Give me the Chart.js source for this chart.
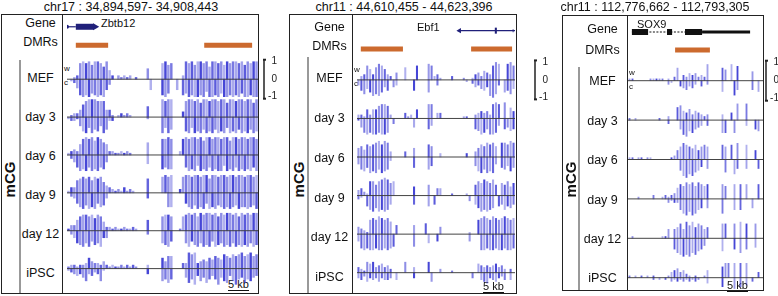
<!DOCTYPE html>
<html>
<head>
<meta charset="utf-8">
<script src="https://cdn.jsdelivr.net/npm/chart.js@4.4.0/dist/chart.umd.min.js"></script>
<style>
  body { margin: 0; width: 778px; height: 296px; position: relative; overflow: hidden; background: #fff;
         font-family: "Liberation Sans", Arial, Helvetica, sans-serif; color: #111; }
  .abs { position: absolute; white-space: nowrap; }
</style>
</head>
<body>
<script>
// mCG level per bin, in tenths (10 = fully methylated). one row per sample, w = Watson (up), c = Crick (down)
const samples = ["MEF", "day 3", "day 6", "day 9", "day 12", "iPSC"];
const scaleTicks = [1, 0, -1];

const zbtbW = [
    [0,0,1,2,9, 10,9,10,8,10, 10,9,7,10,5, 2,0,2,1,2, 1,2,0,1,0, 0,0,6,0,0, 0,0,9,10,8, 9,0,0,0,2, 10,9,10,8,10, 10,9,10,7,10, 10,9,10,8,10, 9,10,10,9,10, 8,10,9,10,10],
    [0,1,2,2,4, 7,9,10,10,10, 9,9,9,4,4, 1,0,1,2,1, 2,1,0,0,0, 0,0,6,0,0, 0,0,10,9,10, 10,0,0,0,3, 9,10,10,9,10, 8,10,10,9,10, 10,9,10,10,8, 10,10,9,10,10, 9,10,10,8,10],
    [1,2,3,2,6, 9,10,9,10,8, 10,9,7,6,2, 2,1,1,2,1, 2,1,0,0,0, 0,0,7,0,0, 0,0,9,9,10, 9,0,0,2,9, 10,9,10,10,9, 10,8,10,10,9, 10,10,9,10,10, 8,10,10,9,10, 10,9,10,10,9],
    [1,3,3,7,8, 9,8,9,7,9, 8,9,6,4,3, 2,1,2,1,3, 1,2,1,0,0, 0,0,8,0,0, 0,0,9,10,9, 10,0,0,2,9, 10,10,9,10,10, 9,10,10,8,10, 10,9,10,10,9, 10,10,9,10,10, 9,10,10,9,10],
    [1,3,3,6,8, 9,9,8,9,7, 9,8,5,2,2, 1,2,1,1,2, 1,1,2,1,0, 0,0,6,0,0, 0,0,8,9,9, 8,0,0,1,8, 9,10,9,10,8, 10,9,10,10,9, 10,8,10,9,10, 10,9,10,8,10, 9,10,9,10,10],
    [1,2,2,1,2, 2,3,6,4,3, 3,2,4,2,1, 2,1,1,2,1, 2,1,2,1,0, 0,0,2,0,0, 0,0,6,4,7, 7,0,0,0,3, 3,9,8,9,3, 4,5,4,6,5, 7,6,5,8,7, 6,8,7,8,9, 7,8,9,7,8]
];
const zbtbC = [
    [0,1,2,5,9, 10,9,10,8,9, 10,9,10,6,3, 0,0,0,0,0, 0,0,0,0,0, 0,0,0,6,0, 0,0,9,10,8, 0,0,6,0,9, 8,10,9,10,10, 9,10,7,10,10, 9,10,8,10,10, 9,10,9,10,8, 10,10,9,10,10],
    [1,2,2,1,5, 8,9,6,9,7, 8,5,9,7,2, 2,0,0,0,0, 0,0,0,0,0, 0,0,1,0,0, 0,0,9,6,9, 7,0,0,0,0, 8,9,6,9,8, 9,7,9,8,9, 7,9,8,9,6, 9,8,9,7,9, 8,9,7,9,8],
    [0,2,4,7,9, 8,9,7,9,8, 9,7,8,4,0, 0,0,0,0,0, 0,0,0,0,0, 0,0,5,0,0, 0,0,8,7,8, 8,0,0,0,0, 7,9,8,9,6, 9,8,9,7,9, 8,9,9,6,9, 8,9,7,9,8, 9,8,9,7,9],
    [0,2,3,6,8, 9,7,9,8,9, 6,8,7,3,0, 0,0,0,0,0, 0,0,0,0,0, 0,0,3,0,0, 0,0,0,0,8, 8,0,0,0,0, 6,8,9,7,9, 8,9,6,9,8, 9,7,8,9,8, 9,8,7,9,8, 8,9,8,7,9],
    [0,2,4,7,8, 9,7,9,6,8, 7,9,4,4,0, 0,0,0,0,0, 0,0,0,0,0, 0,0,2,0,0, 0,0,7,8,9, 6,0,0,0,0, 7,9,6,8,9, 7,9,8,9,6, 9,8,7,9,8, 9,7,9,8,9, 8,9,7,9,8],
    [1,2,3,4,3, 5,7,3,4,2, 3,7,1,0,0, 0,0,0,0,0, 0,0,0,0,0, 0,0,3,0,0, 0,0,7,6,8, 6,0,0,0,0, 5,8,6,9,4, 7,5,8,6,4, 6,9,5,7,8, 4,7,9,6,5, 8,6,7,5,4]
];

const ebfW = [
    [0,2,3,8,6, 3,7,9,8,6, 3,2,0,4,0, 0,7,0,0,0, 8,0,0,0,9, 8,2,3,1,0, 0,0,2,0,0, 0,1,0,0,1, 3,4,2,5,4, 3,8,10,9,0, 0,9,10,8],
    [2,2,1,5,2, 5,5,7,8,8, 7,2,0,0,0, 0,3,1,2,0, 5,0,0,0,8, 8,0,3,3,0, 0,0,0,0,0, 0,1,1,0,0, 2,3,4,3,4, 2,8,9,8,0, 9,0,6,4],
    [5,6,4,7,6, 7,8,9,7,9, 8,3,0,0,0, 0,3,0,0,5, 0,0,0,0,7, 6,0,0,2,0, 0,0,0,0,0, 0,0,2,0,0, 3,5,7,6,8, 7,8,6,0,8, 8,7,9,8],
    [3,4,2,1,8, 8,6,8,9,10, 9,7,8,0,0, 0,0,0,0,5, 0,0,0,0,6, 0,0,4,4,0, 0,0,1,0,0, 0,0,1,0,0, 6,8,7,9,8, 7,9,6,0,7, 6,8,5,7],
    [4,3,2,1,8, 9,8,10,9,8, 9,7,0,5,0, 0,0,0,0,5, 0,0,0,6,0, 0,0,0,4,0, 0,0,0,0,0, 0,0,0,1,0, 0,8,9,10,9, 8,10,9,8,9, 10,9,8,9],
    [3,2,1,6,5, 6,3,4,5,3, 4,2,0,0,0, 0,6,0,0,3, 0,0,0,0,6, 0,0,0,2,0, 0,0,1,0,0, 0,0,0,0,0, 0,5,4,3,4, 3,4,5,3,4, 2,0,2,0]
];
const ebfC = [
    [3,6,8,5,7, 9,8,9,7,4, 6,0,4,3,0, 0,0,0,0,6, 0,0,0,0,7, 0,0,3,0,0, 0,0,0,0,0, 0,0,1,0,2, 4,3,5,6,4, 9,10,8,3,0, 7,6,8,5],
    [1,5,8,9,8, 9,9,8,9,9, 8,0,3,0,0, 0,0,0,0,5, 0,0,0,0,6, 4,0,0,0,0, 0,0,0,0,0, 0,0,0,0,0, 6,7,9,8,6, 9,9,8,4,0, 6,5,7,6],
    [4,7,8,6,9, 8,9,7,9,8, 7,2,0,0,0, 0,0,0,0,6, 0,0,0,0,7, 5,0,0,0,0, 0,0,0,0,0, 0,0,0,0,0, 5,8,9,7,9, 8,9,4,0,6, 7,5,8,6],
    [2,1,0,6,8, 9,7,9,8,9, 8,5,0,0,0, 0,0,0,0,5, 0,0,0,0,6, 0,5,0,0,0, 0,0,0,0,0, 0,0,0,3,0, 5,7,9,8,9, 8,7,0,6,5, 8,6,7,5],
    [4,8,9,8,9, 9,8,9,9,8, 9,8,7,0,0, 0,0,0,0,7, 0,0,0,0,5, 0,0,4,0,0, 0,0,0,0,0, 0,0,0,4,0, 0,0,9,9,8, 9,9,8,9,9, 8,9,9,8],
    [3,4,2,5,3, 4,3,5,3,4, 4,3,0,4,0, 0,0,0,0,3, 0,0,0,0,0, 5,0,0,0,0, 0,0,0,0,0, 0,0,0,0,3, 0,0,4,5,6, 3,4,5,3,2, 4,0,4,0]
];

const soxW = [
    [1,1,0,0,0, 0,0,1,1,1, 1,1,0,1,0, 2,7,0,3,2, 4,3,4,2,3, 2,9,0,0,0, 0,7,6,0,9, 0,8,0,0,0, 0,5,0,0,0],
    [1,0,1,0,0, 0,0,0,0,0, 1,0,0,2,0, 0,7,8,5,4, 6,3,5,4,3, 2,3,0,0,0, 0,3,0,0,4, 0,9,0,0,9, 0,0,0,0,0],
    [1,1,0,1,1, 0,1,1,0,0, 0,0,0,0,1, 2,5,7,9,8, 7,6,8,5,7, 8,7,0,0,0, 0,8,7,0,8, 0,9,0,0,8, 0,0,5,0,0],
    [0,0,0,1,0, 0,0,0,2,0, 0,1,2,1,2, 3,6,8,7,9, 8,9,7,9,8, 7,8,0,0,0, 0,8,7,0,0, 8,0,8,0,8, 0,0,0,8,0],
    [0,1,0,0,0, 0,0,0,0,0, 0,1,1,5,0, 5,6,8,5,9, 7,9,6,8,7, 5,6,0,0,0, 0,8,8,0,0, 8,0,9,0,8, 0,0,8,0,0],
    [1,0,1,0,1, 0,1,0,1,0, 0,0,0,1,3, 4,5,3,4,2, 1,0,1,0,0, 1,4,0,0,0, 0,6,8,8,0, 8,0,8,0,8, 0,0,0,3,0]
];
const soxC = [
    [0,0,0,0,0, 0,0,0,0,0, 0,0,0,2,1, 0,0,3,4,5, 3,4,2,0,3, 0,2,0,0,0, 0,6,0,0,0, 8,5,0,0,0, 0,5,0,6,0],
    [0,0,0,0,0, 0,0,0,0,0, 0,0,0,2,0, 0,0,5,8,9, 6,7,5,4,3, 0,3,0,0,0, 0,7,7,0,0, 7,0,0,0,3, 0,0,5,6,0],
    [0,0,0,0,0, 0,0,0,0,0, 0,0,0,0,0, 0,0,6,9,10, 8,9,7,6,4, 0,5,0,0,0, 0,0,7,0,0, 8,5,0,0,5, 0,0,0,5,0],
    [0,0,0,0,0, 0,0,0,0,0, 0,0,0,2,1, 2,2,6,8,9, 7,9,8,6,5, 0,5,0,0,0, 0,8,0,0,0, 6,0,6,0,0, 0,5,0,0,0],
    [0,0,0,0,0, 0,0,0,0,0, 0,0,0,0,0, 6,8,9,10,9, 10,8,9,7,6, 4,0,0,0,0, 0,7,0,0,0, 6,0,8,0,6, 0,0,5,0,0],
    [0,0,0,0,0, 0,0,0,1,0, 1,0,1,0,2, 1,2,1,2,1, 2,1,2,1,0, 0,3,0,0,0, 0,5,0,0,0, 6,0,5,0,4, 0,2,0,0,0]
];

// gene models and DMRs, in bin positions: [from, to, kind]
const zbtbGene = [[0, 3, "intron"], [3, 9.2, "exon"], [0, 0, "dot"], [9.6, 9.6, "tipR"]];
const ebfGene = [[35, 54, "intron"], [35, 35, "tipL"], [47.1, 47.8, "exon"], [50.6, 50.9, "utr"], [53.2, 53.5, "utr"]];
const soxGene = [[1.3, 40.7, "intron"], [1.3, 6.7, "exon"], [13, 14.7, "exon"], [19, 24.7, "exon"], [24.7, 40.7, "utr"]];

const zbtbDmrs = [[3, 14], [46.7, 63]];
const ebfDmrs = [[1.3, 15.7], [39, 53]];
const soxDmrs = [[15.7, 27.3]];

const panels = [
    {title: "chr17 : 34,894,597- 34,908,443", titleX: 131, box: {l: 1, t: 14, r: 259, b: 294},
     divider: 62, groupLine: 19, groupTop: 60, mcgX: 9, trackLeft: 63, bins: 65,
     base0: 77, gap: 39, geneY: 23, dmrY: 42, geneLabelY: 23,
     geneName: "Zbtb12", geneNameX: 101, geneNameY: 23, geneColor: "#20207a", intronDash: [],
     parts: zbtbGene, dmrs: zbtbDmrs, w: zbtbW, c: zbtbC, scaleGap: 6, kbX: 228, kbY: 285, barWidth: 1.8},
    {title: "chr11 : 44,610,455 - 44,623,396", titleX: 404, box: {l: 289, t: 14, r: 517, b: 294},
     divider: 352, groupLine: 307, groupTop: 57, mcgX: 298, trackLeft: 353, bins: 54,
     base0: 77.7, gap: 39.7, geneY: 27, dmrY: 46, geneLabelY: 27,
     geneName: "Ebf1", geneNameX: 417, geneNameY: 27, geneColor: "#20207a", intronDash: [],
     parts: ebfGene, dmrs: ebfDmrs, w: ebfW, c: ebfC, scaleGap: 20, kbX: 483, kbY: 287, barWidth: 1.4},
    {title: "chr11 : 112,776,662 - 112,793,305", titleX: 655, box: {l: 562, t: 15, r: 764, b: 291},
     divider: 627, groupLine: 578, groupTop: 67, mcgX: 570, trackLeft: 628, bins: 45,
     base0: 80.7, gap: 39.4, geneY: 32, dmrY: 50, geneLabelY: 29,
     geneName: "SOX9", geneNameX: 637, geneNameY: 24, geneColor: "#111", intronDash: [2, 1.5],
     parts: soxGene, dmrs: soxDmrs, w: soxW, c: soxC, scaleGap: 3, kbX: 727, kbY: 286, barWidth: 1.2}
];

const UNIT = 18;  // px of a full bar
const BIN = 3;    // px per bin
const FONT = "'Liberation Sans', Arial, sans-serif";
const partWidth = {intron: 1.2, utr: 3, exon: 6};
// per-CpG shading, so neighbouring reads don't merge into one flat block
const shade = [0.45, 0.8, 0.55, 0.38, 0.9, 0.5, 0.65, 0.42, 0.75];

function put(css, text) {
    const d = document.createElement("div");
    d.className = "abs";
    d.style.cssText = css;
    if (text !== undefined) d.textContent = text;
    document.body.appendChild(d);
    return d;
}

function centered(text, cx, cy, size, extra = "") {
    return put(`left:${cx - 150}px;width:300px;text-align:center;top:${cy - size / 2}px;` +
        `font-size:${size}px;line-height:${size}px;${extra}`, text);
}

function segments(list, y) {
    const pts = [];
    list.forEach(([a, b]) => pts.push({x: a, y: y}, {x: b, y: y}, {x: b, y: null}));
    return pts;
}

const scaleBar = {
    id: "scaleBar",
    afterDraw(chart, args, opts) {
        const {ctx, chartArea, scales: {y}} = chart;
        const x = chartArea.right + opts.gap;
        const top = y.getPixelForValue(scaleTicks[0]);
        const bot = y.getPixelForValue(scaleTicks[scaleTicks.length - 1]);
        ctx.save();
        ctx.strokeStyle = "#222";
        ctx.lineWidth = 1.5;
        ctx.beginPath();
        ctx.moveTo(x, top - 2);
        ctx.lineTo(x, bot + 2);
        ctx.stroke();
        ctx.fillStyle = "#222";
        ctx.fillRect(x - 1, top - 3, 3, 2);
        ctx.fillRect(x - 1, bot + 1, 3, 2);
        ctx.font = `10px ${FONT}`;
        ctx.textBaseline = "middle";
        ctx.textAlign = "right";
        scaleTicks.forEach(t => ctx.fillText(String(t), x + 13, y.getPixelForValue(t)));
        ctx.restore();
    }
};

panels.forEach(p => {
    const b = p.box;
    put(`left:${b.l}px;top:${b.t}px;width:${b.r - b.l}px;height:${b.b - b.t}px;border:1px solid #222;box-sizing:border-box;`);
    put(`left:${p.divider}px;top:${b.t}px;width:1px;height:${b.b - b.t}px;background:#222;`);
    put(`left:${p.groupLine}px;top:${p.groupTop}px;width:2px;height:${b.b - p.groupTop - 1}px;background:#999;`);
    centered(p.title, p.titleX, 7, 12.5);
    centered("mCG", p.mcgX, 179, 15, "font-weight:bold;transform:rotate(-90deg);");

    const labelX = (p.groupLine + p.divider) / 2;
    centered("Gene", labelX, p.geneLabelY, 12.5);
    centered("DMRs", labelX, p.dmrY, 12.5);
    samples.forEach((s, k) => centered(s, labelX, p.base0 + k * p.gap + 1, 12.5));
    put(`left:${p.geneNameX}px;top:${p.geneNameY - 6}px;font-size:11px;line-height:12px;`, p.geneName);
    put(`left:${p.trackLeft + 1}px;top:${p.base0 - 12}px;font-size:8px;line-height:8px;`, "w");
    put(`left:${p.trackLeft + 1}px;top:${p.base0 + 2}px;font-size:8px;line-height:8px;`, "c");
    put(`left:${p.kbX}px;top:${p.kbY - 6}px;font-size:11px;line-height:11px;border-bottom:1.5px solid #111;`, "5 kb");

    // chart covering the track area plus the scale bar on its right
    const top = b.t + 1, height = b.b - b.t - 2;
    const pad = p.scaleGap + 16;
    const canvas = document.createElement("canvas");
    canvas.width = p.bins * BIN + pad;
    canvas.height = height;
    canvas.style.cssText = `position:absolute;left:${p.trackLeft}px;top:${top}px;`;
    document.body.appendChild(canvas);

    const rowY = k => -k * p.gap / UNIT;
    const bars = [];
    p.w.forEach((row, k) => row.forEach((v, i) => {
        if (v) bars.push({x: i + 0.5, y: [rowY(k), rowY(k) + v / 10]});
    }));
    p.c.forEach((row, k) => row.forEach((v, i) => {
        if (v) bars.push({x: i + 0.5, y: [rowY(k) - v / 10, rowY(k)]});
    }));

    const baselines = segments(samples.map(() => [0, p.bins]), 0)
        .map((pt, j) => ({x: pt.x, y: pt.y === null ? null : rowY(Math.floor(j / 3))}));

    const geneRow = (p.base0 - p.geneY) / UNIT;
    const dmrRow = (p.base0 - p.dmrY) / UNIT;

    const geneSets = Object.keys(partWidth).map(kind => ({
        type: "line",
        data: segments(p.parts.filter(q => q[2] === kind), geneRow),
        borderColor: p.geneColor,
        borderWidth: partWidth[kind],
        borderDash: kind === "intron" ? p.intronDash : [],
        borderCapStyle: "butt",
        pointRadius: 0,
        order: 1
    }));
    const marks = {dot: ["circle", 0, 2], tipR: ["triangle", 90, 4], tipL: ["triangle", -90, 3]};
    p.parts.filter(q => marks[q[2]]).forEach(q => {
        const [style, rot, r] = marks[q[2]];
        geneSets.push({
            type: "line", data: [{x: q[0], y: geneRow}], showLine: false,
            pointStyle: style, rotation: rot, pointRadius: r,
            pointBackgroundColor: p.geneColor, pointBorderColor: p.geneColor, pointBorderWidth: 0, order: 1
        });
    });

    new Chart(canvas, {
        type: "bar",
        data: {
            datasets: [
                {type: "line", data: baselines, borderColor: "#444", borderWidth: 1, pointRadius: 0, spanGaps: false, order: 0},
                {data: bars, barThickness: p.barWidth, grouped: false, order: 2,
                 backgroundColor: c => `rgba(50, 50, 210, ${shade[c.dataIndex % shade.length]})`},
                {type: "line", data: segments(p.dmrs, dmrRow), borderColor: "#cc6a2e", borderWidth: 5,
                 borderCapStyle: "butt", pointRadius: 0, order: 1},
                ...geneSets
            ]
        },
        options: {
            responsive: false,
            animation: false,
            devicePixelRatio: 1,
            layout: {padding: {right: pad}},
            plugins: {legend: {display: false}, tooltip: {enabled: false}, scaleBar: {gap: p.scaleGap}},
            scales: {
                x: {type: "linear", display: false, min: 0, max: p.bins, offset: false},
                y: {type: "linear", display: false, min: -(top + height - p.base0) / UNIT, max: (p.base0 - top) / UNIT}
            }
        },
        plugins: [scaleBar]
    });
});
</script>
</body>
</html>
